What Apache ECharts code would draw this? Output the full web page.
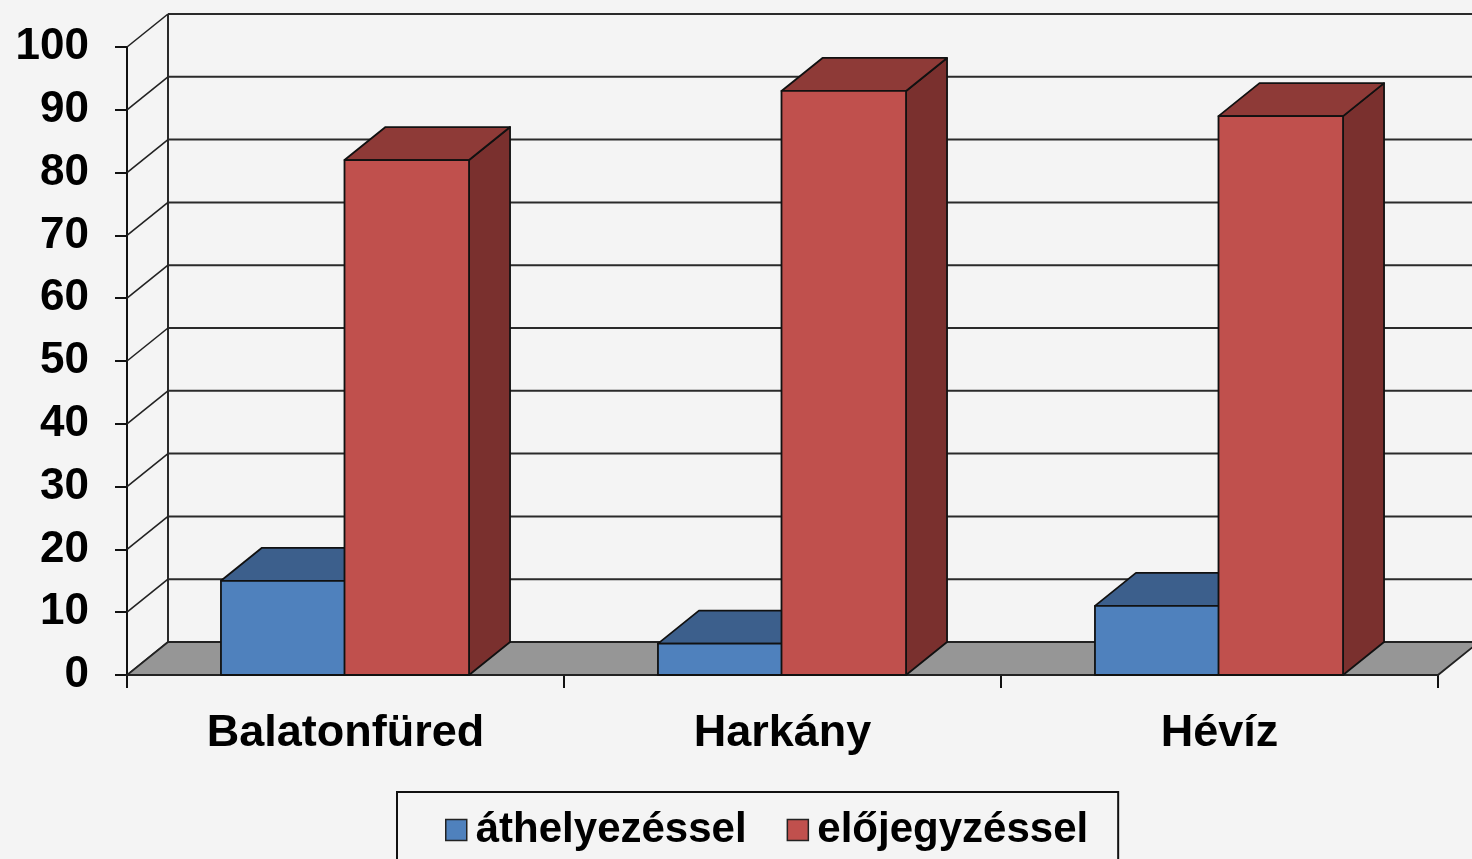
<!DOCTYPE html>
<html>
<head>
<meta charset="utf-8">
<script src="https://cdn.jsdelivr.net/npm/echarts@6/dist/echarts.min.js"></script>
<style>
html,body{margin:0;padding:0;background:#f4f4f4;}
#chart{width:1472px;height:859px;}
</style>
</head>
<body>
<div id="chart"></div>
<script>
var categories = ['Balatonfüred', 'Harkány', 'Hévíz'];
var seriesNames = ['áthelyezéssel', 'előjegyzéssel'];
var athelyezessel = [15, 5, 11];
var elojegyzessel = [82, 93, 89];
var yTicks = [0, 10, 20, 30, 40, 50, 60, 70, 80, 90, 100];

var DX = 41, DY = -33;
var FONT = '"Liberation Sans", Arial, sans-serif';

var palette = [
  {front: '#4f81bd', top: '#3c5f8c', side: '#2f4c70'},
  {front: '#c0504d', top: '#8e3a37', side: '#7a302e'}
];

function barRender(seriesIdx) {
  return function (params, api) {
    var cat = api.value(0), val = api.value(1);
    var topPt = api.coord([cat, val]);
    var basePt = api.coord([cat, 0]);
    var catW = api.size([1, 0])[0];
    var bw = catW * 0.285;
    var x0 = seriesIdx === 0 ? topPt[0] - bw : topPt[0] - 1;
    var x1 = x0 + bw;
    var yT = topPt[1], yB = basePt[1];
    var col = palette[seriesIdx];
    var ls = {stroke: '#111', lineWidth: 1.8, lineJoin: 'round'};
    return {
      type: 'group',
      children: [
        {type: 'polygon', shape: {points: [[x1, yT], [x1 + DX, yT + DY], [x1 + DX, yB + DY], [x1, yB]]},
          style: Object.assign({fill: col.side}, ls)},
        {type: 'polygon', shape: {points: [[x0, yT], [x1, yT], [x1 + DX, yT + DY], [x0 + DX, yT + DY]]},
          style: Object.assign({fill: col.top}, ls)},
        {type: 'rect', shape: {x: x0, y: yT, width: bw, height: yB - yT},
          style: Object.assign({fill: col.front}, ls)}
      ]
    };
  };
}

function wallRender(params, api) {
  var cs = params.coordSys;
  var v = api.value(1);
  var p = api.coord([0, v]);
  var y = p[1];
  var xl = cs.x, xr = cs.x + cs.width;
  var children = [
    {type: 'line', shape: {x1: xl, y1: y, x2: xl + DX, y2: y + DY}, style: {stroke: '#222', lineWidth: 1.6}},
    {type: 'line', shape: {x1: xl + DX, y1: y + DY, x2: xr + DX, y2: y + DY}, style: {stroke: '#2a2a2a', lineWidth: 2}}
  ];
  if (params.dataIndex === 0) {
    var topY = api.coord([0, yTicks[yTicks.length - 1]])[1];
    children.push({type: 'line', shape: {x1: xl + DX, y1: y + DY, x2: xl + DX, y2: topY + DY}, style: {stroke: '#2a2a2a', lineWidth: 2}});
  }
  return {type: 'group', children: children};
}

function floorRender(params, api) {
  var cs = params.coordSys;
  var y = api.coord([0, api.value(1)])[1];
  var xl = cs.x, xr = cs.x + cs.width;
  return {
    type: 'polygon',
    shape: {points: [[xl, y], [xr, y], [xr + DX, y + DY], [xl + DX, y + DY]]},
    style: {fill: '#969696', stroke: '#222', lineWidth: 1.8}
  };
}

var chart = echarts.init(document.getElementById('chart'));
chart.setOption({
  backgroundColor: '#f4f4f4',
  animation: false,
  grid: {left: 127, right: 34, top: 47, bottom: 184},
  legend: {
    data: seriesNames,
    left: 397,
    top: 792,
    orient: 'horizontal',
    icon: 'rect',
    itemWidth: 21,
    itemHeight: 21,
    itemGap: 40,
    padding: [16, 30, 40, 48],
    borderColor: '#111',
    borderWidth: 2,
    itemStyle: {borderColor: '#222', borderWidth: 1.5},
    textStyle: {fontFamily: FONT, fontWeight: 'bold', fontSize: 42, color: '#000', lineHeight: 44, padding: [0, 0, 0, 4]}
  },
  xAxis: {
    type: 'category',
    data: categories,
    axisLine: {show: true, lineStyle: {color: '#111', width: 2}},
    axisTick: {show: true, length: 13, lineStyle: {color: '#111', width: 2}},
    axisLabel: {fontFamily: FONT, fontWeight: 'bold', fontSize: 45, color: '#000', margin: 36}
  },
  yAxis: {
    type: 'value',
    min: 0,
    max: 100,
    interval: 10,
    splitLine: {show: false},
    axisLine: {show: true, lineStyle: {color: '#111', width: 2}},
    axisTick: {show: true, length: 12, lineStyle: {color: '#111', width: 2}},
    axisLabel: {fontFamily: FONT, fontWeight: 'bold', fontSize: 44, color: '#000', margin: 38}
  },
  series: [
    {type: 'custom', name: 'walls', z: 1, silent: true, renderItem: wallRender,
      data: yTicks.map(function (v) { return [0, v]; })},
    {type: 'custom', name: 'floor', z: 2, silent: true, renderItem: floorRender, data: [[0, 0]]},
    {type: 'custom', name: seriesNames[0], z: 3, renderItem: barRender(0),
      itemStyle: {color: palette[0].front},
      data: athelyezessel.map(function (v, i) { return [i, v]; })},
    {type: 'custom', name: seriesNames[1], z: 4, renderItem: barRender(1),
      itemStyle: {color: palette[1].front},
      data: elojegyzessel.map(function (v, i) { return [i, v]; })}
  ]
});
</script>
</body>
</html>
